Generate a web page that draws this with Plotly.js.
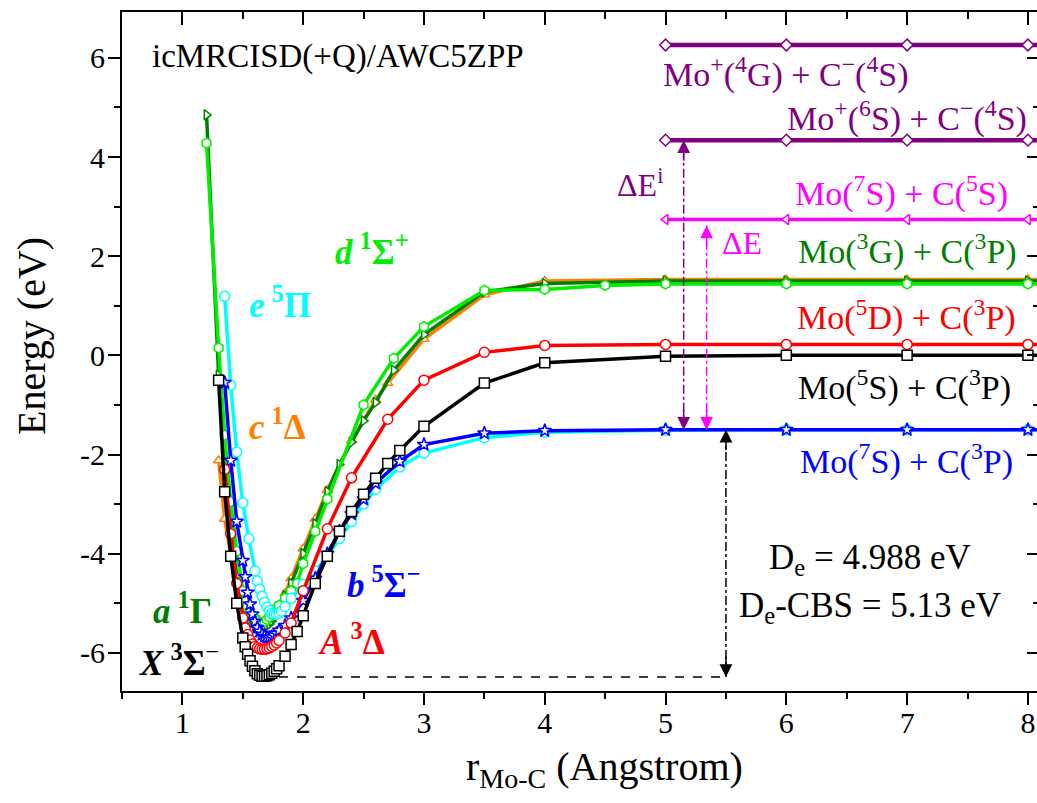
<!DOCTYPE html>
<html>
<head>
<meta charset="utf-8">
<script src="https://cdn.plot.ly/plotly-3.0.1.min.js"></script>
<style>
html,body{margin:0;padding:0;overflow:hidden;background:#fff;}
#chart{width:1050px;height:803px;}
</style>
</head>
<body>
<div id="chart"></div>
<script>
// ---------------- data ----------------
// X 3Sigma- (black, squares)
const r_X = [1.30,1.35,1.40,1.45,1.50,1.52,1.54,1.56,1.58,1.60,1.62,1.64,1.66,1.68,1.70,1.72,1.74,1.76,1.78,1.80,1.85,1.90,1.95,2.00,2.10,2.20,2.30,2.40,2.50,2.60,2.70,2.80,3.00,3.50,4.00,5.00,6.00,7.00,8.00,10.0];
const E_X = [-0.50,-2.75,-4.05,-5.00,-5.70,-5.88,-6.03,-6.16,-6.27,-6.36,-6.42,-6.45,-6.47,-6.47,-6.46,-6.44,-6.41,-6.37,-6.32,-6.26,-6.07,-5.83,-5.57,-5.25,-4.60,-4.05,-3.55,-3.15,-2.80,-2.48,-2.18,-1.92,-1.43,-0.56,-0.15,-0.02,0.00,0.00,0.00,0.00];
// A 3Delta (red, circles)
const r_A = [1.35,1.40,1.45,1.50,1.52,1.54,1.56,1.58,1.60,1.62,1.64,1.66,1.68,1.70,1.72,1.74,1.76,1.78,1.80,1.85,1.90,2.00,2.20,2.40,2.70,3.00,3.50,4.00,5.00,6.00,7.00,8.00,10.0];
const E_A = [-2.30,-3.60,-4.60,-5.30,-5.50,-5.63,-5.74,-5.82,-5.87,-5.90,-5.92,-5.93,-5.93,-5.92,-5.90,-5.87,-5.84,-5.80,-5.75,-5.60,-5.40,-4.75,-3.50,-2.47,-1.29,-0.50,0.06,0.20,0.22,0.22,0.22,0.22,0.22];
// a 1Gamma (dark green, right triangles)
const r_a = [1.20,1.30,1.35,1.40,1.45,1.50,1.52,1.54,1.56,1.58,1.60,1.62,1.64,1.66,1.68,1.70,1.72,1.74,1.76,1.78,1.80,1.85,1.90,2.00,2.10,2.20,2.30,2.40,2.50,2.60,2.75,3.00,3.50,4.00,5.00,6.00,7.00,8.00,10.0];
const E_a = [4.85,-0.40,-2.10,-3.50,-4.45,-4.95,-5.10,-5.22,-5.32,-5.40,-5.46,-5.50,-5.52,-5.52,-5.50,-5.46,-5.42,-5.36,-5.28,-5.20,-5.10,-4.85,-4.60,-4.00,-3.40,-2.75,-2.20,-1.75,-1.32,-0.95,-0.30,0.42,1.28,1.45,1.50,1.50,1.50,1.50,1.50];
// b 5Sigma- (blue, stars)
const r_b = [1.35,1.40,1.45,1.50,1.52,1.54,1.56,1.58,1.60,1.62,1.64,1.66,1.68,1.70,1.72,1.74,1.76,1.78,1.80,1.85,1.90,2.00,2.10,2.20,2.30,2.40,2.50,2.60,2.80,3.00,3.50,4.00,5.00,6.00,7.00,8.00,10.0];
const E_b = [-0.55,-2.12,-3.35,-4.14,-4.47,-4.78,-5.02,-5.22,-5.37,-5.49,-5.57,-5.63,-5.67,-5.69,-5.69,-5.68,-5.65,-5.61,-5.55,-5.45,-5.30,-4.95,-4.50,-4.00,-3.55,-3.20,-2.90,-2.58,-2.14,-1.80,-1.57,-1.52,-1.50,-1.50,-1.50,-1.50,-1.50];
// c 1Delta (orange, up triangles)
const r_c = [1.30,1.35,1.40,1.45,1.50,1.55,1.60,1.65,1.70,1.75,1.80,1.85,1.90,2.00,2.10,2.20,2.40,2.60,2.70,3.00,3.50,4.00,5.00,6.00,7.00,8.00,10.0];
const E_c = [-2.12,-3.30,-4.00,-4.55,-4.95,-5.25,-5.40,-5.45,-5.40,-5.25,-5.05,-4.80,-4.50,-3.90,-3.30,-2.72,-1.72,-0.90,-0.56,0.33,1.22,1.50,1.53,1.53,1.53,1.53,1.53];
// d 1Sigma+ (light green, hexagons)
const r_d = [1.20,1.30,1.35,1.40,1.45,1.50,1.52,1.54,1.56,1.58,1.60,1.62,1.64,1.66,1.68,1.70,1.72,1.74,1.76,1.78,1.80,1.85,1.90,1.95,2.00,2.10,2.20,2.50,2.75,3.00,3.50,4.00,4.50,5.00,6.00,7.00,8.00,10.0];
const E_d = [4.28,0.15,-1.61,-2.95,-3.95,-4.75,-4.95,-5.06,-5.16,-5.24,-5.30,-5.35,-5.38,-5.39,-5.37,-5.33,-5.28,-5.22,-5.16,-5.10,-5.04,-4.90,-4.75,-4.60,-4.20,-3.55,-2.90,-1.00,-0.06,0.58,1.31,1.33,1.41,1.44,1.44,1.44,1.44,1.44];
// e 5Pi (cyan, circles)
const r_e = [1.35,1.40,1.45,1.50,1.55,1.60,1.62,1.64,1.66,1.68,1.70,1.72,1.74,1.76,1.78,1.80,1.82,1.85,1.90,2.00,2.10,2.20,2.30,2.40,2.50,2.60,2.80,3.00,3.50,4.00,5.00,6.00,7.00,8.00,10.0];
const E_e = [1.19,-0.60,-1.95,-2.98,-3.70,-4.35,-4.55,-4.72,-4.86,-4.98,-5.08,-5.15,-5.20,-5.22,-5.22,-5.20,-5.16,-5.07,-4.90,-4.62,-4.35,-4.05,-3.70,-3.35,-3.00,-2.70,-2.25,-1.97,-1.66,-1.55,-1.51,-1.50,-1.50,-1.50,-1.50];
// asymptote levels
const r_asym = [5,6,7,8,10];
const E_Mo7S_C5S = [2.74,2.74,2.74,2.74,2.74];
const E_Mo6S_Cm4S = [4.34,4.34,4.34,4.34,4.34];
const E_Mo4G_Cm4S = [6.26,6.26,6.26,6.26,6.26];
// energies used by the arrows
const E_min_X = -6.49;
const E_Mo7S_C3P = -1.50;
// axis ticks
const yTickVals = [-6,-4,-2,0,2,4,6];
const yTickText = ['-6','-4','-2','0','2','4','6'];

// ---------------- styling ----------------
const FONT = "Liberation Serif, Times New Roman, serif";
const LW = 3.5;
function curve(x, y, color, symbol, size){
  return {type:'scatter', mode:'lines+markers', x:x, y:y, cliponaxis:true,
    line:{color:color, width:LW},
    marker:{symbol:symbol, size:size||9, color:'white', line:{color:color, width:1.5}},
    showlegend:false, hoverinfo:'x+y'};
}
const traces = [
  curve(r_c, E_c, '#ff8000', 'triangle-up', 9),
  curve(r_a, E_a, '#008000', 'triangle-right', 9),
  curve(r_d, E_d, '#00ee00', 'hexagon', 10),
  curve(r_e, E_e, '#00ffff', 'circle', 10),
  curve(r_b, E_b, '#0000ff', 'star', 10),
  curve(r_A, E_A, '#ff0000', 'circle', 10),
  curve(r_X, E_X, '#000000', 'square', 10),
  curve(r_asym, E_Mo7S_C5S, '#ff00ff', 'triangle-left', 9),
  {...curve(r_asym, E_Mo6S_Cm4S, '#800080', 'diamond', 9), line:{color:'#800080', width:4.5}},
  {...curve(r_asym, E_Mo4G_Cm4S, '#800080', 'diamond', 9), line:{color:'#800080', width:4.5}},
  {type:'scatter', x:[], y:[], xaxis:'x2', yaxis:'y2', showlegend:false, hoverinfo:'skip'},
  {type:'scatter', x:[], y:[], xaxis:'x3', yaxis:'y3', showlegend:false, hoverinfo:'skip'}
];

const XR = [0.5, 8.1];
const YR = [-6.77, 6.925];
const tickFont = {family:FONT, size:30, color:'#000'};

const xArrow_i = 5.15, xArrow_E = 5.34, xArrow_De = 5.5, xDashStart = 1.8;

function head(x, y, ay, color){
  return {x:x, y:y, xref:'x', yref:'y', ax:0, ay:ay, text:'', showarrow:true,
          arrowhead:2, arrowsize:1.7, arrowwidth:1.5, arrowcolor:color, standoff:0};
}
function label(x, y, text, color, size, xanchor){
  return {x:x, y:y, xref:'x', yref:'y', text:text, showarrow:false,
          xanchor:xanchor||'center', yanchor:'middle',
          font:{family:FONT, size:size, color:color}};
}
const SL = 35; // state label size
const RL = 34; // right label size
const TS = '\u2009'; // thin space

function tickAxis(extra){
  return Object.assign({showticklabels:false, showgrid:false, zeroline:false, tickwidth:2, tickcolor:'#000'}, extra);
}

const layout = {
  width:1050, height:803,
  margin:{l:122, r:10, t:12, b:112, pad:0},
  paper_bgcolor:'#fff', plot_bgcolor:'#fff',
  showlegend:false,
  font:{family:FONT, color:'#000'},
  // main axes: carry the tick labels (short ticks so labels sit closer)
  xaxis:{range:XR, tickmode:'linear', tick0:0, dtick:1, ticks:'outside', ticklen:4, tickwidth:2,
    tickcolor:'#000', showline:true, linewidth:2, linecolor:'#000', showgrid:false, zeroline:false,
    tickfont:tickFont, automargin:false},
  yaxis:{range:YR, tickmode:'array', tickvals:yTickVals, ticktext:yTickText, ticks:'outside', ticklen:9, tickwidth:2,
    tickcolor:'#000', showline:true, linewidth:2, linecolor:'#000', showgrid:false, zeroline:false,
    tickfont:tickFont, automargin:false},
  // overlay axes: full-length outside ticks (major + minor) on bottom/left
  xaxis3:tickAxis({range:XR, overlaying:'x', side:'bottom', anchor:'y', tickmode:'linear', tick0:0, dtick:1,
    ticks:'outside', ticklen:13, showline:false,
    minor:{tickmode:'linear', tick0:0, dtick:0.5, ticks:'outside', ticklen:7, tickwidth:2, tickcolor:'#000', showgrid:false}}),
  yaxis3:tickAxis({range:YR, overlaying:'y', side:'left', anchor:'x', tickmode:'linear', tick0:0, dtick:2,
    ticks:'outside', ticklen:13, showline:false,
    minor:{tickmode:'linear', tick0:0, dtick:1, ticks:'outside', ticklen:7, tickwidth:2, tickcolor:'#000', showgrid:false}}),
  // mirrored axes on top/right with inside ticks
  xaxis2:tickAxis({range:XR, overlaying:'x', side:'top', anchor:'y', tickmode:'linear', tick0:0, dtick:1, ticks:'inside',
    ticklen:13, showline:true, linewidth:2, linecolor:'#000',
    minor:{tickmode:'linear', tick0:0, dtick:0.5, ticks:'inside', ticklen:7, tickwidth:2, tickcolor:'#000', showgrid:false}}),
  yaxis2:tickAxis({range:YR, overlaying:'y', side:'right', anchor:'x', tickmode:'linear', tick0:0, dtick:2, ticks:'inside',
    ticklen:13, showline:true, linewidth:2, linecolor:'#000',
    minor:{tickmode:'linear', tick0:0, dtick:1, ticks:'inside', ticklen:7, tickwidth:2, tickcolor:'#000', showgrid:false}}),
  shapes:[
    {type:'line', xref:'x', yref:'y', x0:xArrow_i, x1:xArrow_i, y0:E_Mo7S_C3P, y1:E_Mo6S_Cm4S[0],
      line:{color:'#800080', width:1.5, dash:'dashdot'}},
    {type:'line', xref:'x', yref:'y', x0:xArrow_E, x1:xArrow_E, y0:E_Mo7S_C3P, y1:E_Mo7S_C5S[0]-0.12,
      line:{color:'#ff00ff', width:1.5, dash:'dashdot'}},
    {type:'line', xref:'x', yref:'y', x0:xArrow_De, x1:xArrow_De, y0:E_min_X, y1:E_Mo7S_C3P,
      line:{color:'#000', width:1.5, dash:'dashdot'}},
    {type:'line', xref:'x', yref:'y', x0:xDashStart, x1:xArrow_De, y0:E_min_X, y1:E_min_X,
      line:{color:'#000', width:1.5, dash:'dash'}}
  ],
  annotations:[
    // axis titles
    {xref:'paper', yref:'paper', x:0.526, y:-0.115, xanchor:'center', yanchor:'middle', showarrow:false,
      text:'r<sub>Mo-C</sub> (Angstrom)', font:{family:FONT, size:40, color:'#000'}},
    {xref:'paper', yref:'paper', x:-0.098, y:0.523, xanchor:'center', yanchor:'middle', showarrow:false, textangle:-90,
      text:'Energy (eV)', font:{family:FONT, size:40, color:'#000'}},
    head(xArrow_i, E_Mo6S_Cm4S[0], 22, '#800080'),
    head(xArrow_i, E_Mo7S_C3P, -22, '#800080'),
    head(xArrow_E, E_Mo7S_C5S[0]-0.12, 22, '#ff00ff'),
    head(xArrow_E, E_Mo7S_C3P, -22, '#ff00ff'),
    head(xArrow_De, E_Mo7S_C3P, 22, '#000'),
    head(xArrow_De, E_min_X, -22, '#000'),
    label(0.73, 6.03, 'icMRCISD(+Q)/AWC5ZPP', '#000', 33, 'left'),
    label(4.96, 5.70, 'Mo<sup>+</sup>(<sup>4</sup>G) + C<sup>−</sup>(<sup>4</sup>S)', '#800080', RL, 'left'),
    label(8.01, 4.81, 'Mo<sup>+</sup>(<sup>6</sup>S) + C<sup>−</sup>(<sup>4</sup>S)', '#800080', RL, 'right'),
    label(7.85, 3.30, 'Mo(<sup>7</sup>S) + C(<sup>5</sup>S)', '#ff00ff', RL, 'right'),
    label(7.93, 2.13, 'Mo(<sup>3</sup>G) + C(<sup>3</sup>P)', '#008000', RL, 'right'),
    label(7.92, 0.81, 'Mo(<sup>5</sup>D) + C(<sup>3</sup>P)', '#ff0000', RL, 'right'),
    label(7.88, -0.60, 'Mo(<sup>5</sup>S) + C(<sup>3</sup>P)', '#000000', RL, 'right'),
    label(7.89, -2.11, 'Mo(<sup>7</sup>S) + C(<sup>3</sup>P)', '#0000ff', RL, 'right'),
    label(4.79, 3.48, 'ΔE<sup>i</sup>', '#800080', 32),
    label(5.63, 2.27, 'ΔE', '#ff00ff', 32),
    label(6.69, -4.12, 'D<sub>e</sub> = 4.988 eV', '#000', 35),
    label(6.69, -5.09, 'D<sub>e</sub>-CBS = 5.13 eV', '#000', 35),
    label(1.81, 1.06, '<b><i>e</i>'+TS+'<sup>5</sup>Π</b>', '#00ffff', SL),
    label(2.57, 2.13, '<b><i>d</i>'+TS+'<sup>1</sup>Σ<sup>+</sup></b>', '#00ee00', SL),
    label(1.79, -1.39, '<b><i>c</i>'+TS+'<sup>1</sup>Δ</b>', '#ff8000', SL),
    label(1.0, -5.10, '<b><i>a</i>'+TS+'<sup>1</sup>Γ</b>', '#008000', SL),
    label(0.97, -6.15, '<b><i>X</i>'+TS+'<sup>3</sup>Σ</b><sup>−</sup>', '#000000', SL),
    label(2.40, -5.74, '<b><i>A</i>'+TS+'<sup>3</sup>Δ</b>', '#ff0000', SL),
    label(2.67, -4.59, '<b><i>b</i>'+TS+'<sup>5</sup>Σ<sup>−</sup></b>', '#0000ff', SL)
  ]
};

Plotly.newPlot('chart', traces, layout, {displayModeBar:false, staticPlot:true});
</script>
</body>
</html>
